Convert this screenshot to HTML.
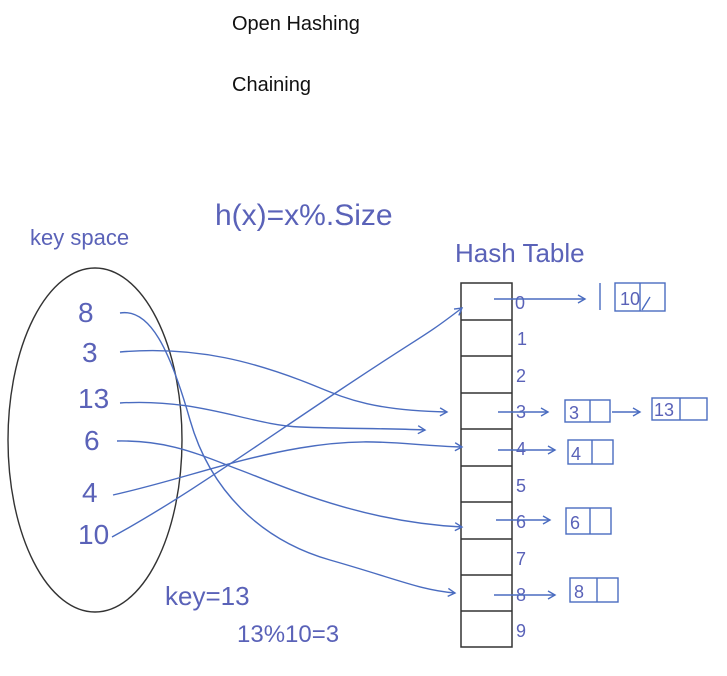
<!DOCTYPE html>
<html><head><style>
body{margin:0;background:#fff;width:727px;height:676px;overflow:hidden}
svg{display:block}
.t{font-family:"Liberation Sans",sans-serif;font-size:20px;fill:#111}
.h{font-family:"Liberation Sans",sans-serif;fill:#5a62b8;font-weight:300}
.p{fill:none;stroke:#4a6cc0;stroke-width:1.4}
</style></head><body>
<svg width="727" height="676" viewBox="0 0 727 676">
<defs><marker id="a" markerWidth="10" markerHeight="10" refX="8" refY="5" orient="auto" markerUnits="userSpaceOnUse"><path d="M1,1 L8,5 L1,9" fill="none" stroke="#4a6cc0" stroke-width="1.4"/></marker></defs>
<text class="t" x="232" y="30">Open Hashing</text>
<text class="t" x="232" y="91">Chaining</text>
<text class="h" x="30" y="245" font-size="22">key space</text>
<text class="h" x="215" y="225" font-size="30">h(x)=x%.Size</text>
<text class="h" x="455" y="262" font-size="26">Hash Table</text>
<ellipse cx="95" cy="440" rx="87" ry="172" fill="none" stroke="#333" stroke-width="1.4"/>
<g class="h" font-size="28">
<text x="78" y="322">8</text><text x="82" y="362">3</text><text x="78" y="408">13</text>
<text x="84" y="450">6</text><text x="82" y="502">4</text><text x="78" y="544">10</text>
</g>
<text class="h" x="165" y="605" font-size="26">key=13</text>
<text class="h" x="237" y="642" font-size="24">13%10=3</text>
<g fill="none" stroke="#333" stroke-width="1.5">
<rect x="461" y="283" width="51" height="364"/>
<path d="M461,320H512M461,356H512M461,393H512M461,429H512M461,466H512M461,502H512M461,539H512M461,575H512M461,611H512"/>
</g>
<g class="h" font-size="18">
<text x="515" y="309">0</text><text x="517" y="345">1</text><text x="516" y="382">2</text>
<text x="516" y="418">3</text><text x="516" y="455">4</text><text x="516" y="492">5</text>
<text x="516" y="528">6</text><text x="516" y="565">7</text><text x="516" y="601">8</text><text x="516" y="637">9</text>
</g>
<g class="p" marker-end="url(#a)">
<path d="M120,313 C150,308 170,350 190,420 S260,540 330,560 S420,590 455,593"/>
<path d="M120,352 C200,345 260,365 300,380 S360,410 447,412"/>
<path d="M120,403 C200,398 250,425 300,427 S380,428 425,430"/>
<path d="M117,441 C170,440 200,455 240,470 S360,522 462,527"/>
<path d="M113,495 C180,480 230,460 300,448 S400,445 462,447"/>
<path d="M112,537 C180,500 250,450 340,390 S420,340 462,308"/>
<path d="M494,299 H585"/>
<path d="M498,412 H548"/>
<path d="M498,450 H555"/>
<path d="M496,520 H550"/>
<path d="M494,595 H555"/>
<path d="M612,412 H640"/>
</g>
<g fill="none" stroke="#4a6cc0" stroke-width="1.4">
<rect x="615" y="283" width="50" height="28"/><path d="M640,283V311M650,297L642,310"/>
<path d="M600,283V310"/>
<rect x="565" y="400" width="45" height="22"/><path d="M590,400V422"/>
<rect x="652" y="398" width="55" height="22"/><path d="M680,398V420"/>
<rect x="568" y="440" width="45" height="24"/><path d="M592,440V464"/>
<rect x="566" y="508" width="45" height="26"/><path d="M590,508V534"/>
<rect x="570" y="578" width="48" height="24"/><path d="M597,578V602"/>
</g>
<g class="h" font-size="18">
<text x="620" y="305">10</text><text x="569" y="419">3</text><text x="654" y="416">13</text>
<text x="571" y="460">4</text><text x="570" y="529">6</text><text x="574" y="598">8</text>
</g>
</svg>
</body></html>
